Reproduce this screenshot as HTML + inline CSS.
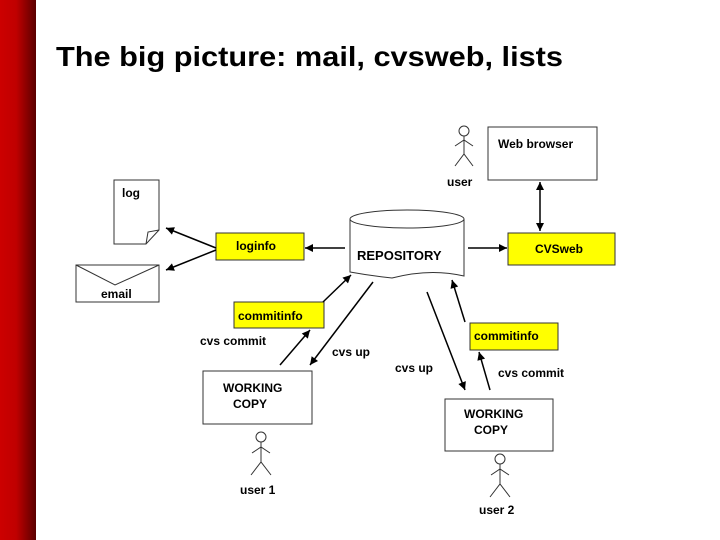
<!DOCTYPE html>
<html><head><meta charset="utf-8"><style>
html,body{margin:0;padding:0;background:#fff;width:720px;height:540px;overflow:hidden}
svg{display:block}
text{font-family:"Liberation Sans",sans-serif;font-weight:bold;fill:#000}
</style></head><body>
<svg width="720" height="540" viewBox="0 0 720 540" xmlns="http://www.w3.org/2000/svg">
<defs>
<linearGradient id="rb" x1="0" x2="1" y1="0" y2="0">
<stop offset="0" stop-color="#cc0000"/><stop offset="0.45" stop-color="#c00000"/><stop offset="1" stop-color="#5a0000"/>
</linearGradient>
<marker id="ah" viewBox="0 0 10 10" refX="10" refY="5" markerWidth="11" markerHeight="8" orient="auto-start-reverse" markerUnits="userSpaceOnUse">
<path d="M0,0 L10,5 L0,10 z" fill="#000"/></marker>
</defs>
<rect x="0" y="0" width="36" height="540" fill="url(#rb)"/>
<text x="56" y="66" font-size="28" textLength="507" lengthAdjust="spacingAndGlyphs" style="font-weight:bold">The big picture: mail, cvsweb, lists</text>

<g stroke="#333" stroke-width="1" fill="#fff">
<!-- log doc -->
<path d="M114,180 H159 V230 L146,244 H114 Z"/>
<path d="M146,244 L148,232 L159,230" fill="none"/>
<!-- email -->
<rect x="76" y="265" width="83" height="37"/>
<path d="M76,265 L115,285 L159,265" fill="none"/>
<!-- web browser -->
<rect x="488" y="127" width="109" height="53"/>
<!-- working copies -->
<rect x="203" y="371" width="109" height="53"/>
<rect x="445" y="399" width="108" height="52"/>
<!-- yellow boxes -->
<rect x="216" y="233" width="88" height="27" fill="#ffff00"/>
<rect x="508" y="233" width="107" height="32" fill="#ffff00"/>
<rect x="234" y="302" width="90" height="26" fill="#ffff00"/>
<rect x="470" y="323" width="88" height="27" fill="#ffff00"/>
<!-- repository -->
<path d="M350,219 V272 Q372,276 392,278 Q430,268 464,276 V219" />
<ellipse cx="407" cy="219" rx="57" ry="9"/>
</g>

<g stroke="#000" stroke-width="1.5" fill="none">
<line x1="216" y1="248" x2="166" y2="228" marker-end="url(#ah)"/>
<line x1="216" y1="250" x2="166" y2="270" marker-end="url(#ah)"/>
<line x1="345" y1="248" x2="305" y2="248" marker-end="url(#ah)"/>
<line x1="468" y1="248" x2="507" y2="248" marker-end="url(#ah)"/>
<line x1="540" y1="182" x2="540" y2="231" marker-start="url(#ah)" marker-end="url(#ah)"/>
<line x1="280" y1="365" x2="310" y2="330" marker-end="url(#ah)"/>
<line x1="323" y1="302" x2="351" y2="275" marker-end="url(#ah)"/>
<line x1="373" y1="282" x2="310" y2="365" marker-end="url(#ah)"/>
<line x1="427" y1="292" x2="465" y2="390" marker-end="url(#ah)"/>
<line x1="490" y1="390" x2="479" y2="352" marker-end="url(#ah)"/>
<line x1="465" y1="322" x2="452" y2="280" marker-end="url(#ah)"/>
</g>

<!-- stick figures -->
<g stroke="#333" stroke-width="1" fill="none">
<g transform="translate(464,126)"><circle cx="0" cy="5" r="5"/><path d="M0,10 V28 M-9,20 L0,14 L9,20 M-9,40 L0,28 L9,40"/></g>
<g transform="translate(261,432)"><circle cx="0" cy="5" r="5"/><path d="M0,10 V30 M-9,21 L0,15 L9,21 M-10,43 L0,30 L10,43"/></g>
<g transform="translate(500,454)"><circle cx="0" cy="5" r="5"/><path d="M0,10 V30 M-9,21 L0,15 L9,21 M-10,43 L0,30 L10,43"/></g>
</g>

<g font-size="12">
<text x="122" y="197">log</text>
<text x="101" y="298">email</text>
<text x="236" y="250">loginfo</text>
<text x="357" y="260" font-size="13">REPOSITORY</text>
<text x="535" y="253">CVSweb</text>
<text x="498" y="148">Web browser</text>
<text x="447" y="186">user</text>
<text x="238" y="320">commitinfo</text>
<text x="474" y="340">commitinfo</text>
<text x="200" y="345">cvs commit</text>
<text x="332" y="356">cvs up</text>
<text x="395" y="372">cvs up</text>
<text x="498" y="377">cvs commit</text>
<text x="223" y="392">WORKING</text>
<text x="233" y="408">COPY</text>
<text x="464" y="418">WORKING</text>
<text x="474" y="434">COPY</text>
<text x="240" y="494">user 1</text>
<text x="479" y="514">user 2</text>
</g>
</svg>
</body></html>
